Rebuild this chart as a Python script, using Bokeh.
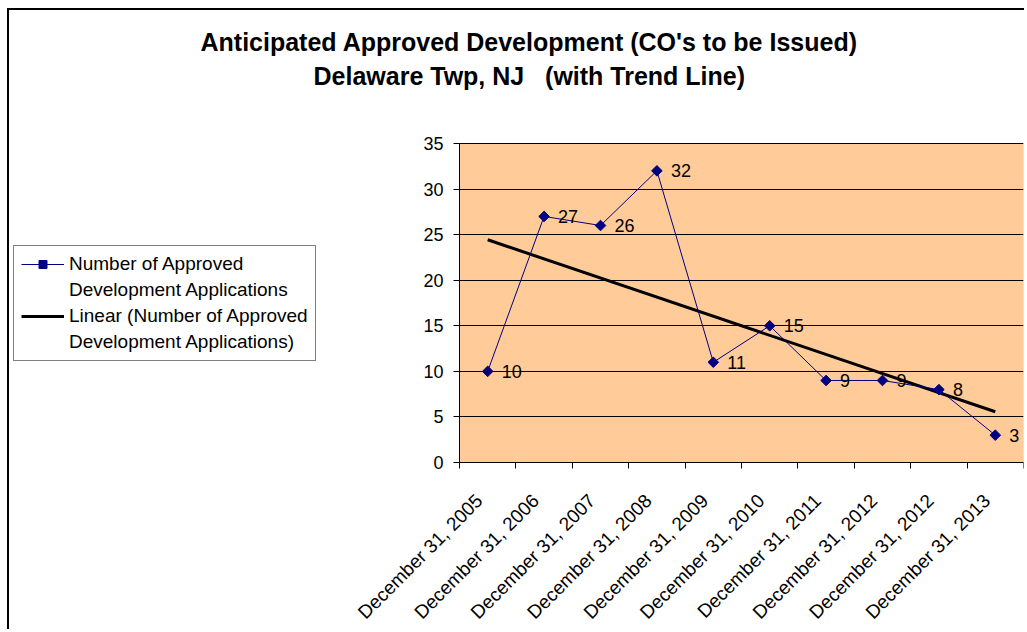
import math
import numpy as np
from bokeh.plotting import figure
from bokeh.models import (BoxAnnotation, ColumnDataSource, FixedTicker, LabelSet, Legend,
                          LegendItem, LinearAxis, Range1d, Title)
from bokeh.core.properties import value
from bokeh.embed import file_html
from bokeh.resources import INLINE

# ---- data ----
categories = ["December 31, 2005", "December 31, 2006", "December 31, 2007",
              "December 31, 2008", "December 31, 2009", "December 31, 2010",
              "December 31, 2011", "December 31, 2012", "December 31, 2012",
              "December 31, 2013"]
approved = [10, 27, 26, 32, 11, 15, 9, 9, 8, 3]
y_ticks = [0, 5, 10, 15, 20, 25, 30, 35]
title_line1 = "Anticipated Approved Development (CO's to be Issued)"
title_line2 = "Delaware Twp, NJ \u00a0\u00a0(with Trend Line)"
series_name = ["Number of Approved", "Development Applications"]
trend_name = ["Linear (Number of Approved", "Development Applications)"]

FONT = "Liberation Sans"
ORANGE = "#FFCC99"

n = len(categories)
xs = list(range(1, n + 1))
slope, intercept = np.polyfit(xs, approved, 1)
trend_x = [xs[0], xs[-1]]
trend_y = [slope * v + intercept for v in trend_x]

src = ColumnDataSource(dict(x=xs, y=approved, lbl=[str(v) for v in approved]))

# layout geometry (canvas pixels). The frame spans the whole canvas below the
# titles so that the legend and the axis labels lie inside it.
W, H = 1017, 621
PLOT_LEFT, PLOT_RIGHT = 450, 1014
PLOT_TOP, PLOT_BOTTOM = 133, 452
FRAME_TOP = 120
px_per_cat = (PLOT_RIGHT - PLOT_LEFT) / n
x_lo, x_hi = 0.5, n + 0.5
x_start = x_lo - PLOT_LEFT / px_per_cat
y_lo, y_hi = y_ticks[0], y_ticks[-1]
px_per_y = (PLOT_BOTTOM - PLOT_TOP) / (y_hi - y_lo)
y_start = y_lo - (H - PLOT_BOTTOM) / px_per_y
y_end = y_hi + (PLOT_TOP - FRAME_TOP) / px_per_y

p = figure(width=W, height=H, output_backend="svg", toolbar_location=None,
           title=title_line1, x_axis_location=None, y_axis_location=None,
           x_range=Range1d(x_start, x_hi), y_range=Range1d(y_start, y_end),
           min_border_left=0, min_border_right=W - PLOT_RIGHT,
           min_border_top=FRAME_TOP, min_border_bottom=0,
           background_fill_color="white", border_fill_color="white",
           outline_line_color=None)
p.styles = {"margin-left": "7px", "margin-top": "8px",
            "border-left": "2px solid #000", "border-top": "2px solid #000"}

# plot-area fill
p.add_layout(BoxAnnotation(left=x_lo, right=x_hi, bottom=y_lo, top=y_hi,
                           fill_color=ORANGE, fill_alpha=1, line_color="#808080",
                           line_width=1, level="image"))

# titles: spacer nearest the plot, then line 2, then line 1 (p.title, outermost)
p.title.align = "left"
p.title.offset = 191
p.title.text_font = FONT
p.title.text_font_size = "25px"
p.title.text_font_style = "bold"
p.title.text_color = "black"
p.title.standoff = 4
p.add_layout(Title(text=" ", text_font_size="1px", standoff=36), "above")
p.add_layout(Title(text=title_line2, align="left", offset=304,
                   text_font=FONT, text_font_size="25px", text_font_style="bold",
                   text_color="black", standoff=4), "above")

# x axis (category labels at the centres, tick marks at the boundaries)
label_shift = 8.5 / px_per_cat
label_pos = [v - label_shift for v in xs]
xa = LinearAxis(fixed_location=y_lo, bounds=(x_lo, x_hi),
                ticker=FixedTicker(ticks=label_pos,
                                   minor_ticks=[v - 0.5 for v in xs] + [xs[-1] + 0.5]))
xa.major_label_overrides = {pos: c for pos, c in zip(label_pos, categories)}
xa.major_label_orientation = math.pi / 4
xa.major_tick_line_color = None
xa.major_tick_in = 0
xa.major_tick_out = 0
xa.minor_tick_in = 0
xa.minor_tick_out = 6
xa.minor_tick_line_color = "black"
xa.major_label_standoff = 29
xa.major_label_text_font_size = "19px"
p.add_layout(xa, "below")

# y axis fixed at the plot area's left edge
ya = LinearAxis(fixed_location=x_lo, bounds=(y_lo, y_hi),
                ticker=FixedTicker(ticks=y_ticks))
ya.major_tick_in = 0
ya.major_tick_out = 6
ya.minor_tick_line_color = None
ya.major_label_standoff = 10
ya.major_label_text_font_size = "18px"
p.add_layout(ya, "left")

for ax in (xa, ya):
    ax.axis_line_color = "black"
    ax.major_label_text_font = FONT
    ax.major_label_text_color = "black"

for g in p.xgrid:
    g.grid_line_color = None
grid = p.ygrid[0] if len(p.ygrid) else None
if grid is not None and "cross_bounds" in grid.properties():
    grid.ticker = FixedTicker(ticks=y_ticks)
    grid.bounds = (y_lo, y_hi)
    grid.cross_bounds = (x_lo, x_hi)
    grid.grid_line_color = "black"
    grid.grid_line_width = 1
else:
    if grid is not None:
        grid.grid_line_color = None
    inner = y_ticks[1:-1]
    p.segment(x0=[x_lo] * len(inner), x1=[x_hi] * len(inner), y0=inner, y1=inner,
              line_color="black", line_width=1, level="underlay")

# glyphs
trend_r = p.line(trend_x, trend_y, line_color="black", line_width=3)
line_r = p.line("x", "y", source=src, line_color="#000080", line_width=1)
scat_r = p.scatter("x", "y", source=src, marker="square", angle=math.pi / 4, size=7.5,
                   fill_color="#000080", line_color="#000080")

labels = LabelSet(x="x", y="y", text="lbl", source=src, x_offset=14, y_offset=0,
                  text_baseline="middle", text_align="left", text_font=value(FONT),
                  text_font_size=value("18px"), text_color="black")
p.add_layout(labels)

LEG_LEFT, LEG_BOTTOM = 4, 351
legend = Legend(items=[LegendItem(label=series_name[0], renderers=[line_r, scat_r]),
                       LegendItem(label=series_name[1], renderers=[]),
                       LegendItem(label=trend_name[0], renderers=[trend_r]),
                       LegendItem(label=trend_name[1], renderers=[])],
                location=(LEG_LEFT, H - LEG_BOTTOM), border_line_color="black",
                border_line_width=1, background_fill_color="white",
                background_fill_alpha=1, label_text_font=FONT,
                label_text_font_size="19px", label_text_color="black",
                label_height=20, glyph_height=20, glyph_width=43, label_standoff=5,
                padding=7, spacing=4, margin=0)
p.add_layout(legend)

open("out.html", "w").write(file_html(p, INLINE))
